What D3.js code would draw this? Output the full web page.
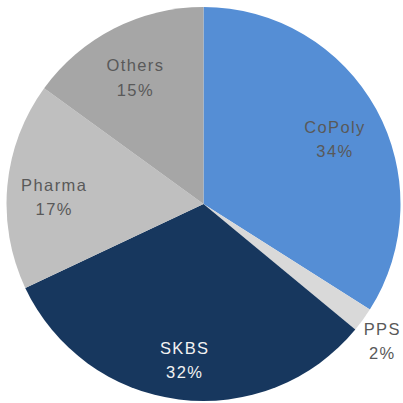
<!DOCTYPE html>
<html>
<head>
<meta charset="utf-8">
<script src="https://cdn.jsdelivr.net/npm/d3@7"></script>
<style>
  body { margin: 0; background: #fff; }
  text { font-family: "Liberation Sans", Arial, sans-serif; font-size: 16.5px; letter-spacing: 1.4px; }
</style>
</head>
<body>
<svg id="chart" width="403" height="403"></svg>
<script>
// segment data, clockwise from 12 o'clock
const segments = ["CoPoly", "PPS", "SKBS", "Pharma", "Others"];
const shares = [34, 2, 32, 17, 15];
const colors = ["#558ed5", "#d9d9d9", "#17375e", "#bfbfbf", "#a6a6a6"];
const textColors = ["#595959", "#595959", "#f2f2f2", "#595959", "#595959"];
const outside = [false, true, false, false, false];

const width = 403, height = 403;
const cx = 203.5, cy = 204, radius = 197;

const svg = d3.select("#chart");
const g = svg.append("g").attr("transform", `translate(${cx},${cy})`);

const data = segments.map((name, i) => ({name, value: shares[i], i}));

const pie = d3.pie().value(d => d.value).sort(null);
const arc = d3.arc().innerRadius(0).outerRadius(radius);
const labelArc = d3.arc().innerRadius(150).outerRadius(150);
const outerArc = d3.arc().innerRadius(221).outerRadius(221);

const arcs = pie(data);

g.selectAll("path.slice")
  .data(arcs)
  .join("path")
  .attr("class", "slice")
  .attr("d", arc)
  .attr("fill", d => colors[d.data.i]);

const labels = g.selectAll("text.lbl")
  .data(arcs)
  .join("text")
  .attr("class", "lbl")
  .attr("text-anchor", "middle")
  .attr("fill", d => textColors[d.data.i])
  .attr("transform", d => {
    const [x, y] = outside[d.data.i] ? outerArc.centroid(d) : labelArc.centroid(d);
    return `translate(${x},${y})`;
  });

labels.append("tspan")
  .attr("x", 0)
  .attr("y", 1)
  .text(d => d.data.name);

labels.append("tspan")
  .attr("x", 0)
  .attr("y", 25.5)
  .text(d => d.data.value + "%");
</script>
</body>
</html>
